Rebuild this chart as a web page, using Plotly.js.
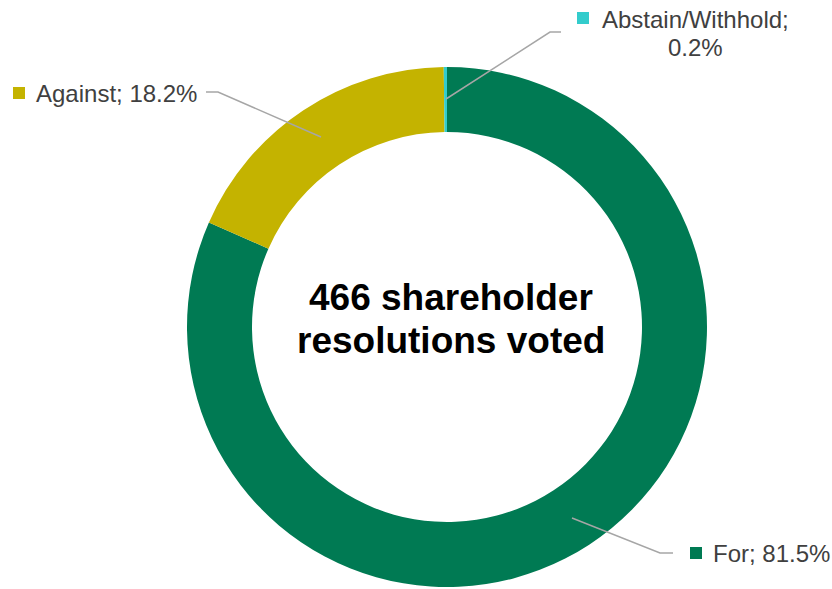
<!DOCTYPE html>
<html>
<head>
<meta charset="utf-8">
<script src="https://cdn.plot.ly/plotly-3.0.1.min.js"></script>
<style>html,body{margin:0;padding:0;background:#fff;}#chart{width:832px;height:589px;}</style>
</head>
<body>
<div id="chart"></div>
<script>
var categories = ["For", "Against", "Abstain/Withhold"];
var values = [81.5, 18.2, 0.2];
var sliceColors = ["#007A53", "#C4B300", "#33CCCC"];
var centerLines = ["466 shareholder", "resolutions voted"];

var W = 832, H = 589;
function px(x) { return x / W; }
function py(y) { return 1 - y / H; }

var cx = 447, cy = 327, R = 260;

var trace = {
  type: "pie",
  labels: categories,
  values: values,
  hole: 0.75,
  sort: false,
  direction: "clockwise",
  rotation: 0,
  textinfo: "none",
  hoverinfo: "label+percent",
  marker: { colors: sliceColors, line: { width: 0 } },
  domain: { x: [px(cx - R), px(cx + R)], y: [py(cy + R), py(cy - R)] },
  showlegend: false
};

function lbl(cat, v) { return cat + "; " + v.toFixed(1) + "%"; }

var txtFont = { family: "Liberation Sans, Arial, sans-serif", size: 24, color: "#404040" };
var bigFont = { family: "Liberation Sans, Arial, sans-serif", size: 37, color: "#000000" };
var annotations = [
  { x: px(34), y: py(93), xref: "paper", yref: "paper", xanchor: "left", yanchor: "middle",
    text: lbl(categories[1], values[1]), showarrow: false, font: txtFont },
  { x: px(711), y: py(553), xref: "paper", yref: "paper", xanchor: "left", yanchor: "middle",
    text: lbl(categories[0], values[0]), showarrow: false, font: txtFont },
  { x: px(695), y: py(20), xref: "paper", yref: "paper", xanchor: "center", yanchor: "middle",
    text: categories[2] + ";", showarrow: false, font: txtFont },
  { x: px(695), y: py(48), xref: "paper", yref: "paper", xanchor: "center", yanchor: "middle",
    text: values[2].toFixed(1) + "%", showarrow: false, font: txtFont },
  { x: px(451), y: py(297), xref: "paper", yref: "paper", xanchor: "center", yanchor: "middle",
    text: "<b>" + centerLines[0] + "</b>", showarrow: false, font: bigFont },
  { x: px(451), y: py(340), xref: "paper", yref: "paper", xanchor: "center", yanchor: "middle",
    text: "<b>" + centerLines[1] + "</b>", showarrow: false, font: bigFont }
];

var lineStyle = { color: "#A6A6A6", width: 1.5 };
function path(pts) {
  return "M" + pts.map(function (p) { return px(p[0]) + "," + py(p[1]); }).join(" L");
}
function sq(x0, y0, x1, y1, c) {
  return { type: "rect", xref: "paper", yref: "paper", x0: px(x0), x1: px(x1), y0: py(y1), y1: py(y0),
    fillcolor: c, line: { width: 0 } };
}
var shapes = [
  { type: "path", xref: "paper", yref: "paper", path: path([[206, 92], [218, 92], [321, 137]]), line: lineStyle },
  { type: "path", xref: "paper", yref: "paper", path: path([[446, 99], [550, 32], [561, 32]]), line: lineStyle },
  { type: "path", xref: "paper", yref: "paper", path: path([[572, 518], [660, 553], [673, 553]]), line: lineStyle },
  sq(13, 87, 25, 99, sliceColors[1]),
  sq(577, 12, 589, 24, sliceColors[2]),
  sq(690, 547, 702, 559, sliceColors[0])
];

var layout = {
  width: W, height: H,
  margin: { l: 0, r: 0, t: 0, b: 0 },
  paper_bgcolor: "#ffffff",
  plot_bgcolor: "#ffffff",
  annotations: annotations,
  shapes: shapes,
  showlegend: false
};

Plotly.newPlot("chart", [trace], layout, { displayModeBar: false, staticPlot: true });
</script>
</body>
</html>
